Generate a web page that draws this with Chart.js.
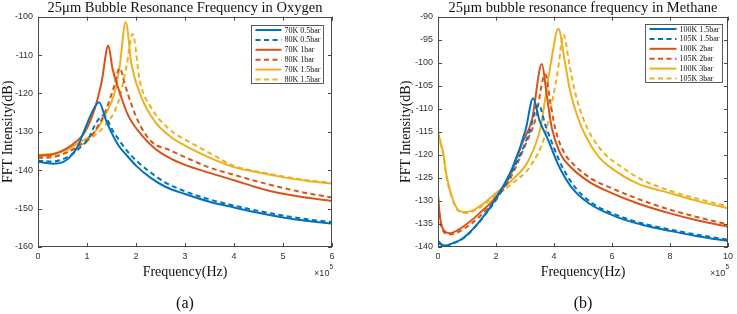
<!DOCTYPE html>
<html>
<head>
<meta charset="utf-8">
<script src="https://cdn.jsdelivr.net/npm/chart.js@4.4.0/dist/chart.umd.min.js"></script>
<style>
  html, body { margin: 0; padding: 0; background: #fff; }
  body { width: 737px; height: 314px; position: relative; overflow: hidden; }
  .panel { position: absolute; top: 0; height: 314px; }
</style>
</head>
<body>
<div class="panel" style="left:0;width:368px"><canvas id="oxygen"></canvas></div>
<div class="panel" style="left:368px;width:369px"><canvas id="methane"></canvas></div>
<script>
// ---- (a) Oxygen, frequency in units of 1e5 Hz ----
var o2_70k_05_f  = [0, 0.3, 0.55, 0.8, 0.95, 1.1, 1.245, 1.4, 1.64, 1.81, 2.0, 2.3, 2.6, 3.0, 3.5, 4.0, 4.5, 5.0, 5.5, 6.0];
var o2_70k_05_db = [-137.8, -138.3, -137.6, -134.0, -129.5, -125.0, -122.3, -127.4, -133.5, -136.1, -138.8, -142.0, -144.3, -146.2, -148.2, -149.7, -151.1, -152.3, -153.2, -153.9];

var o2_80k_05_f  = [0, 0.3, 0.6, 0.85, 1.03, 1.16, 1.33, 1.54, 1.84, 2.05, 2.3, 2.6, 3.0, 3.5, 4.0, 4.5, 5.0, 5.5, 6.0];
var o2_80k_05_db = [-137.5, -137.7, -136.6, -134.2, -131.8, -128.3, -125.7, -130.0, -135.3, -138.0, -140.6, -143.2, -145.5, -147.6, -149.2, -150.6, -151.8, -152.8, -153.5];

var o2_70k_1_f  = [0, 0.3, 0.55, 0.8, 0.96, 1.16, 1.3, 1.435, 1.52, 1.64, 1.84, 2.12, 2.39, 2.7, 3.0, 3.5, 4.0, 4.67, 5.3, 6.0];
var o2_70k_1_db = [-136.2, -135.9, -134.6, -132.3, -130.0, -123.9, -116.9, -107.5, -113.5, -118.7, -125.7, -130.9, -134.4, -136.9, -138.6, -140.7, -142.6, -145.2, -146.8, -148.0];

var o2_80k_1_f  = [0, 0.3, 0.6, 0.9, 1.1, 1.37, 1.54, 1.67, 1.76, 1.84, 2.05, 2.32, 2.66, 3.0, 3.5, 4.0, 4.5, 5.0, 5.5, 6.0];
var o2_80k_1_db = [-136.8, -136.6, -135.3, -133.0, -130.9, -124.8, -118.7, -113.4, -117.0, -120.4, -127.4, -132.6, -134.6, -136.6, -139.3, -141.2, -143.0, -144.6, -146.0, -147.1];

var o2_70k_15_f  = [0, 0.3, 0.6, 0.86, 1.1, 1.37, 1.57, 1.67, 1.79, 1.91, 2.12, 2.39, 2.7, 3.0, 3.5, 4.0, 4.5, 5.0, 5.5, 6.0];
var o2_70k_15_db = [-136.0, -135.7, -134.6, -132.6, -130.9, -125.7, -119.5, -112.6, -101.4, -112.6, -121.3, -127.4, -131.2, -133.6, -136.7, -139.2, -140.6, -141.8, -142.8, -143.5];

var o2_80k_15_f  = [0, 0.3, 0.6, 0.9, 1.1, 1.37, 1.64, 1.81, 1.93, 2.08, 2.32, 2.66, 3.2, 3.6, 4.0, 4.5, 5.0, 5.5, 6.0];
var o2_80k_15_db = [-136.5, -136.3, -135.3, -133.3, -131.5, -128.3, -122.2, -112.6, -104.5, -116.9, -123.9, -129.1, -133.4, -136.2, -138.9, -140.4, -141.6, -142.6, -143.3];

// ---- (b) Methane ----
var ch4_100k_15_f  = [0, 0.1, 0.24, 0.5, 0.86, 1.43, 2.0, 2.56, 3.02, 3.28, 3.5, 3.8, 4.15, 4.6, 5.2, 6.3, 7.0, 8.0, 9.0, 10.0];
var ch4_100k_15_db = [-138.6, -139.3, -139.7, -139.2, -138.1, -134.5, -129.4, -122.9, -114.6, -107.7, -112.5, -116.8, -122.2, -127.0, -130.5, -133.8, -135.1, -136.5, -137.7, -138.7];

var ch4_105k_15_f  = [0, 0.1, 0.25, 0.5, 0.9, 1.5, 2.0, 2.56, 3.1, 3.47, 3.7, 4.0, 4.3, 4.75, 5.3, 6.3, 7.0, 8.0, 9.0, 10.0];
var ch4_105k_15_db = [-139.0, -139.5, -139.8, -139.3, -138.0, -134.0, -129.8, -123.6, -116.0, -109.1, -113.5, -118.5, -122.8, -127.2, -130.4, -133.4, -134.8, -136.2, -137.4, -138.4];

var ch4_100k_2_f  = [0, 0.05, 0.15, 0.41, 0.86, 1.43, 2.0, 2.5, 2.9, 3.24, 3.58, 3.75, 3.92, 4.2, 4.6, 5.2, 5.74, 6.87, 8.0, 9.0, 10.0];
var ch4_100k_2_db = [-128.5, -132.5, -135.8, -137.0, -135.6, -132.7, -129.1, -124.2, -117.5, -112.4, -100.3, -107.0, -114.0, -119.5, -122.8, -125.8, -127.6, -130.5, -132.7, -134.3, -135.6];

var ch4_105k_2_f  = [0, 0.05, 0.15, 0.41, 0.9, 1.5, 2.0, 2.5, 3.0, 3.35, 3.7, 3.87, 4.05, 4.35, 4.75, 5.3, 5.9, 7.0, 8.0, 9.0, 10.0];
var ch4_105k_2_db = [-129.0, -133.0, -136.2, -137.3, -136.0, -133.0, -129.5, -125.0, -118.0, -112.5, -102.5, -108.5, -114.5, -119.5, -122.5, -125.2, -127.0, -129.8, -131.9, -133.6, -135.1];

var ch4_100k_3_f  = [0, 0.08, 0.18, 0.3, 0.52, 0.75, 1.0, 1.43, 2.0, 2.56, 3.13, 3.53, 3.7, 3.92, 4.15, 4.38, 4.55, 4.8, 5.1, 5.55, 5.9, 6.87, 8.0, 9.0, 10.0];
var ch4_100k_3_db = [-115.0, -117.0, -119.6, -124.7, -129.8, -132.2, -132.4, -131.2, -128.3, -125.4, -121.1, -114.2, -107.7, -99.0, -92.6, -100.0, -106.0, -111.5, -116.0, -120.5, -122.5, -126.2, -128.3, -130.1, -131.6];

var ch4_105k_3_f  = [0, 0.08, 0.18, 0.3, 0.52, 0.75, 1.0, 1.5, 2.0, 2.56, 3.2, 3.7, 3.95, 4.15, 4.32, 4.55, 4.75, 5.0, 5.3, 5.75, 6.3, 7.0, 8.0, 9.0, 10.0];
var ch4_105k_3_db = [-115.5, -117.5, -120.0, -125.0, -130.0, -132.4, -132.6, -131.2, -128.8, -126.2, -122.3, -115.5, -108.0, -101.0, -93.8, -101.0, -107.0, -112.0, -116.0, -119.8, -122.5, -125.3, -127.8, -129.6, -131.2];

var o2_x_ticks = [0, 6, 1];      // min, max, step
var o2_y_ticks = [-160, -100, 10];
var ch4_x_ticks = [0, 10, 2];
var ch4_y_ticks = [-140, -90, 5];

var BLUE = "#0072BD", ORANGE = "#D95319", YELLOW = "#EDB120";
var SERIF = "'Liberation Serif', 'Times New Roman', serif";
var SANS = "'Liberation Sans', Arial, sans-serif";

function pts(f, db) {
  return f.map((v, i) => ({ x: v, y: db[i] }));
}

function series(label, f, db, color, dashed) {
  return {
    label: label,
    data: pts(f, db),
    borderColor: color,
    backgroundColor: color,
    borderWidth: 2,
    borderDash: dashed ? [5, 3.5] : [],
    pointRadius: 0,
    fill: false,
    cubicInterpolationMode: "monotone",
  };
}

// MATLAB style box, inward ticks, legend box and x10^5 label
var matlabAxes = {
  id: "matlabAxes",
  afterDraw(chart, args, opts) {
    var ctx = chart.ctx, a = chart.chartArea;
    var sx = chart.scales.x, sy = chart.scales.y;
    ctx.save();
    ctx.strokeStyle = "#4a4a4a";
    ctx.lineWidth = 1;
    ctx.strokeRect(Math.round(a.left) + 0.5, Math.round(a.top) + 0.5,
      Math.round(a.right - a.left) - 1, Math.round(a.bottom - a.top) - 1);
    ctx.beginPath();
    sx.ticks.forEach((t) => {
      var x = Math.round(sx.getPixelForValue(t.value)) + 0.5;
      ctx.moveTo(x, a.bottom); ctx.lineTo(x, a.bottom - 4);
      ctx.moveTo(x, a.top); ctx.lineTo(x, a.top + 4);
    });
    sy.ticks.forEach((t) => {
      var y = Math.round(sy.getPixelForValue(t.value)) + 0.5;
      ctx.moveTo(a.left, y); ctx.lineTo(a.left + 4, y);
      ctx.moveTo(a.right, y); ctx.lineTo(a.right - 4, y);
    });
    ctx.stroke();

    // exponent label
    ctx.fillStyle = "#333";
    ctx.textBaseline = "alphabetic";
    ctx.textAlign = "right";
    ctx.font = "6.5px " + SANS;
    var ex = a.right + 1;
    ctx.fillText("5", ex, 269);
    var w5 = ctx.measureText("5").width;
    ctx.font = "9px " + SANS;
    ctx.fillText("\u00d710", ex - w5, 276);

    // legend
    var ds = chart.data.datasets;
    ctx.font = "8px " + SERIF;
    var tw = 0;
    ds.forEach((d) => { tw = Math.max(tw, ctx.measureText(d.label).width); });
    var lineLen = opts.lineLen;
    var bw = 4 + lineLen + 3 + tw + 3;
    var bh = 58;
    var bx = Math.round(a.right - opts.right - bw) + 0.5;
    var by = Math.round(a.top + opts.top) + 0.5;
    ctx.fillStyle = "#fff";
    ctx.fillRect(bx, by, bw, bh);
    ctx.strokeStyle = "#333";
    ctx.lineWidth = 0.8;
    ctx.strokeRect(bx, by, bw, bh);
    ctx.textAlign = "left";
    ctx.textBaseline = "middle";
    ds.forEach((d, i) => {
      var cy = by + 4.5 + i * 9.9;
      ctx.beginPath();
      ctx.strokeStyle = d.borderColor;
      ctx.lineWidth = 2;
      ctx.setLineDash(d.borderDash);
      ctx.moveTo(bx + 4, cy);
      ctx.lineTo(bx + 4 + lineLen, cy);
      ctx.stroke();
      ctx.setLineDash([]);
      ctx.fillStyle = "#111";
      ctx.fillText(d.label, bx + 4 + lineLen + 3, cy + 0.5);
    });
    ctx.restore();
  },
};

function buildChart(id, title, sub, datasets, xt, yt, pad, yWidth, legendPos) {
  return new Chart(document.getElementById(id), {
    type: "line",
    data: { datasets: datasets },
    plugins: [matlabAxes],
    options: {
      responsive: true,
      maintainAspectRatio: false,
      animation: false,
      layout: { padding: pad },
      plugins: {
        legend: { display: false },
        tooltip: { enabled: false },
        title: {
          display: true,
          text: title,
          fullSize: false,
          color: "#111",
          font: { family: SERIF, size: 14.5, weight: "normal", lineHeight: 1.15 },
          padding: { top: 0, bottom: 0 },
        },
        subtitle: {
          display: true,
          text: sub,
          position: "bottom",
          fullSize: false,
          color: "#111",
          font: { family: SERIF, size: 16, weight: "normal" },
          padding: { top: 3, bottom: 0.8 },
        },
        matlabAxes: legendPos,
      },
      scales: {
        x: {
          type: "linear",
          min: xt[0],
          max: xt[1],
          ticks: { stepSize: xt[2], color: "#333", font: { family: SANS, size: 9 }, padding: 4, maxRotation: 0 },
          grid: { display: false, drawTicks: false },
          border: { display: false },
          title: {
            display: true,
            text: "Frequency(Hz)",
            color: "#111",
            font: { family: SERIF, size: 14 },
            padding: { top: 2, bottom: 10 },
          },
          afterFit: (s) => { s.height = 44; },
        },
        y: {
          min: yt[0],
          max: yt[1],
          ticks: { stepSize: yt[2], color: "#333", font: { family: SANS, size: 9 }, padding: 5 },
          grid: { display: false, drawTicks: false },
          border: { display: false },
          title: {
            display: true,
            text: "FFT Intensity(dB)",
            color: "#111",
            font: { family: SERIF, size: 14 },
            padding: { top: 0, bottom: 0 },
          },
          afterFit: (s) => { s.width = yWidth; },
        },
      },
    },
  });
}

buildChart("oxygen", "25\u03bcm Bubble Resonance Frequency in Oxygen", "(a)", [
  series("70K 0.5bar", o2_70k_05_f, o2_70k_05_db, BLUE, false),
  series("80K 0.5bar", o2_80k_05_f, o2_80k_05_db, BLUE, true),
  series("70K 1bar", o2_70k_1_f, o2_70k_1_db, ORANGE, false),
  series("80K 1bar", o2_80k_1_f, o2_80k_1_db, ORANGE, true),
  series("70K 1.5bar", o2_70k_15_f, o2_70k_15_db, YELLOW, false),
  series("80K 1.5bar", o2_80k_15_f, o2_80k_15_db, YELLOW, true),
], o2_x_ticks, o2_y_ticks, { left: 0, right: 36, top: 0, bottom: 0 }, 38, { right: 9, top: 8, lineLen: 26 });

buildChart("methane", "25\u03bcm bubble resonance frequency in Methane", "(b)", [
  series("100K 1.5bar", ch4_100k_15_f, ch4_100k_15_db, BLUE, false),
  series("105K 1.5bar", ch4_105k_15_f, ch4_105k_15_db, BLUE, true),
  series("100K 2bar", ch4_100k_2_f, ch4_100k_2_db, ORANGE, false),
  series("105K 2bar", ch4_105k_2_f, ch4_105k_2_db, ORANGE, true),
  series("100K 3bar", ch4_100k_3_f, ch4_100k_3_db, YELLOW, false),
  series("105K 3bar", ch4_105k_3_f, ch4_105k_3_db, YELLOW, true),
], ch4_x_ticks, ch4_y_ticks, { left: 30, right: 5, top: 0, bottom: 0 }, 40, { right: 6, top: 7, lineLen: 27 });
</script>
</body>
</html>
